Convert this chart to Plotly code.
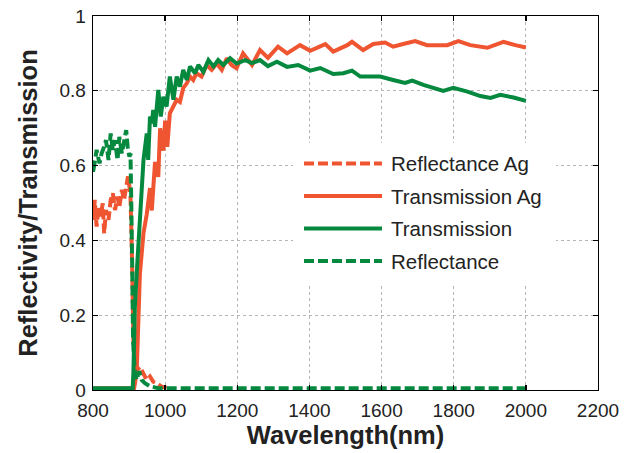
import plotly.graph_objects as go

# ---------------- data ----------------
refl_ag_wl = [800, 801, 805, 810, 816, 821, 827, 831, 836, 843, 849, 855, 861, 868, 873, 880,
              886, 892, 897, 901, 904, 908, 912, 916, 923, 930, 940, 949, 958, 967, 977, 990, 1004]
refl_ag_val = [0.499, 0.455, 0.508, 0.437, 0.490, 0.464, 0.499, 0.419, 0.481, 0.455, 0.508, 0.526,
               0.481, 0.517, 0.490, 0.535, 0.508, 0.553, 0.571, 0.544, 0.517, 0.357, 0.134, 0.071,
               0.054, 0.062, 0.045, 0.027, 0.036, 0.022, 0.018, 0.009, 0.006]

trans_ag_wl = [800, 914, 921, 926, 930, 940, 949, 958, 963, 972, 981, 986, 995, 1000, 1006, 1013,
               1023, 1032, 1041, 1050, 1060, 1069, 1078, 1087, 1101, 1115, 1129, 1143, 1157, 1171,
               1184, 1198, 1216, 1241, 1263, 1285, 1313, 1338, 1374, 1402, 1444, 1466, 1505, 1518,
               1549, 1577, 1610, 1632, 1660, 1693, 1726, 1782, 1813, 1846, 1893, 1938, 1971, 2000]
trans_ag_val = [0.005, 0.005, 0.045, 0.17, 0.31, 0.42, 0.47, 0.54, 0.48, 0.61, 0.57, 0.70, 0.64,
                0.72, 0.65, 0.74, 0.758, 0.776, 0.77, 0.807, 0.82, 0.838, 0.829, 0.847, 0.838,
                0.869, 0.856, 0.873, 0.856, 0.887, 0.869, 0.86, 0.90, 0.869, 0.909, 0.888, 0.918,
                0.90, 0.922, 0.907, 0.925, 0.905, 0.922, 0.931, 0.909, 0.925, 0.929, 0.918, 0.925,
                0.933, 0.922, 0.922, 0.933, 0.922, 0.915, 0.931, 0.922, 0.916]

trans_wl = [800, 910, 912, 916, 921, 928, 935, 940, 949, 953, 958, 963, 967, 972, 981, 988, 995,
            1004, 1013, 1023, 1032, 1041, 1050, 1060, 1069, 1083, 1092, 1106, 1120, 1134, 1147,
            1161, 1180, 1198, 1222, 1241, 1263, 1285, 1310, 1338, 1369, 1402, 1430, 1466, 1494,
            1518, 1541, 1596, 1632, 1665, 1685, 1716, 1771, 1799, 1838, 1874, 1902, 1929, 1966, 2000]
trans_val = [0.005, 0.005, 0.045, 0.22, 0.31, 0.437, 0.526, 0.615, 0.686, 0.615, 0.731, 0.713,
             0.749, 0.704, 0.802, 0.731, 0.784, 0.758, 0.838, 0.776, 0.838, 0.811, 0.856, 0.829,
             0.865, 0.847, 0.869, 0.851, 0.882, 0.865, 0.882, 0.869, 0.887, 0.873, 0.882, 0.874,
             0.882, 0.866, 0.878, 0.864, 0.869, 0.854, 0.861, 0.845, 0.847, 0.854, 0.838, 0.838,
             0.829, 0.821, 0.827, 0.816, 0.800, 0.808, 0.798, 0.786, 0.781, 0.789, 0.782, 0.773]

refl_wl = [800, 801, 806, 810, 818, 824, 831, 836, 843, 849, 855, 861, 868, 873, 880, 886, 892,
           896, 901, 904, 907, 909, 911, 913, 916, 921, 928, 935, 944, 958, 980, 2000]
refl_val = [0.588, 0.588, 0.615, 0.642, 0.606, 0.633, 0.651, 0.668, 0.615, 0.686, 0.642, 0.668,
            0.615, 0.677, 0.633, 0.668, 0.695, 0.651, 0.624, 0.633, 0.508, 0.312, 0.134, 0.08,
            0.045, 0.027, 0.05, 0.027, 0.018, 0.01, 0.005, 0.005]

legend_labels = ["Reflectance Ag", "Transmission Ag", "Transmission", "Reflectance"]
x_ticks = [800, 1000, 1200, 1400, 1600, 1800, 2000, 2200]
y_ticks = [0, 0.2, 0.4, 0.6, 0.8, 1]

RED = "#EE5530"
GREEN = "#05893F"
DASH = "10px,4px"
LW = 4

series = [
    (refl_ag_wl, refl_ag_val, legend_labels[0], RED, DASH),
    (trans_ag_wl, trans_ag_val, legend_labels[1], RED, "solid"),
    (trans_wl, trans_val, legend_labels[2], GREEN, "solid"),
    (refl_wl, refl_val, legend_labels[3], GREEN, DASH),
]

fig = go.Figure()
for xs, ys, name, col, dash in series:
    fig.add_trace(go.Scatter(x=xs, y=ys, mode="lines", name=name,
                             line=dict(color=col, width=LW, dash=dash),
                             showlegend=False))

FONT = "Liberation Sans, Arial, sans-serif"

axis_common = dict(
    showline=True, linecolor="black", linewidth=1.3, mirror="ticks",
    ticks="inside", ticklen=5, tickwidth=1.3, tickcolor="black",
    showgrid=True, gridcolor="#b5b5b5", griddash="dot", gridwidth=1,
    zeroline=False, automargin=False,
    tickfont=dict(family=FONT, size=19, color="#222"),
)

fig.update_xaxes(range=[800, 2200], tickvals=x_ticks,
                 ticktext=[str(v) for v in x_ticks], ticklabelstandoff=3,
                 title=dict(text="<b>Wavelength(nm)</b>", standoff=5,
                            font=dict(family=FONT, size=25.5, color="#222")),
                 **axis_common)
fig.update_yaxes(range=[0, 1], tickvals=y_ticks,
                 ticktext=["0", "0.2", "0.4", "0.6", "0.8", "1"], ticklabelstandoff=2,
                 title=dict(text="<b>Reflectivity/Transmission</b>", standoff=14,
                            font=dict(family=FONT, size=25.5, color="#222")),
                 **axis_common)

W, H = 633, 453
PL, PR, PT, PB = 93, 598, 16, 390          # plot box in page pixels
def px(xp):
    return (xp - PL) / (PR - PL)
def py(yp):
    return (PB - yp) / (PB - PT)

# ---- custom legend (long line samples, white box, no border) ----
shapes = [dict(type="rect", xref="paper", yref="paper",
               x0=px(293), x1=px(556), y0=py(284), y1=py(143),
               fillcolor="white", line=dict(width=0), layer="above")]
annotations = []
rows_y = [163.5, 196, 228.5, 261]
for (xs, ys, name, col, dash), ry in zip(series, rows_y):
    shapes.append(dict(type="line", xref="paper", yref="paper",
                       x0=px(304), x1=px(382), y0=py(ry), y1=py(ry),
                       line=dict(color=col, width=LW, dash=dash), layer="above"))
    annotations.append(dict(xref="paper", yref="paper", x=px(389), y=py(ry),
                            text=name, showarrow=False, xanchor="left", yanchor="middle",
                            font=dict(family=FONT, size=20.5, color="#222")))

fig.update_layout(
    width=W, height=H,
    margin=dict(l=PL, r=W - PR, t=PT, b=H - PB, autoexpand=False),
    paper_bgcolor="white", plot_bgcolor="white",
    shapes=shapes, annotations=annotations,
    showlegend=False, hovermode=False,
)

fig.write_html("out.html",
               config={"displayModeBar": False, "staticPlot": True},
               post_script="document.body.style.margin='0';document.body.style.overflow='hidden';")
